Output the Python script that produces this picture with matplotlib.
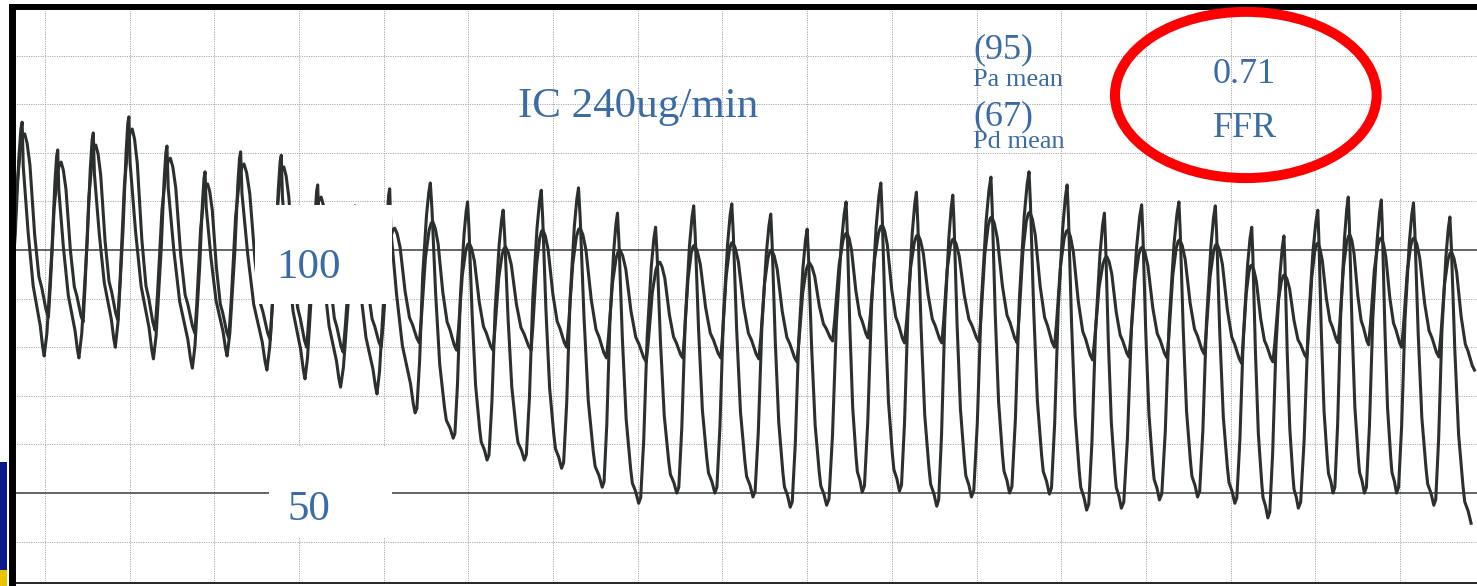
import matplotlib
matplotlib.use("Agg")
import matplotlib.pyplot as plt
from matplotlib.patches import Ellipse, Rectangle

# time in s (one grid division = 1 s), pressure in mmHg
# lower trace (deep troughs, sharp peaks); first trough lies just left of the frame
low_trough_t = [-0.46, -0.01, 0.40, 0.83, 1.28, 1.74, 2.15, 2.62, 3.07, 3.49, 3.92,
                4.37, 4.82, 5.22, 5.66, 6.10, 6.58, 7.01, 7.46, 7.91, 8.36, 8.80,
                9.23, 9.65, 10.09, 10.53, 10.94, 11.39, 11.86, 12.30, 12.71, 13.16,
                13.61, 14.05, 14.44, 14.80, 15.21, 15.58, 15.96, 16.40, 16.84]
low_trough_p = [79.4, 78.2, 77.8, 80.0, 77.6, 75.7, 78.2, 75.3, 73.5, 71.8, 70.4,
                66.5, 61.3, 56.8, 56.8, 55.1, 51.2, 47.9, 50.0, 50.0, 49.2, 47.1,
                47.5, 50.2, 50.4, 47.3, 49.2, 50.0, 49.8, 46.5, 46.9, 48.6, 49.2,
                47.9, 44.9, 46.9, 50.0, 50.0, 50.0, 47.5, 43.8]
low_peak_t = [-0.27, 0.15, 0.57, 0.99, 1.44, 1.89, 2.31, 2.79, 3.22, 3.66, 4.07,
              4.55, 4.99, 5.41, 5.86, 6.30, 6.76, 7.21, 7.66, 8.11, 8.57, 9.00,
              9.46, 9.87, 10.29, 10.72, 11.17, 11.62, 12.07, 12.51, 12.95, 13.39,
              13.82, 14.25, 14.63, 15.03, 15.39, 15.78, 16.16, 16.59]
low_peak_p = [126.3, 120.6, 124.1, 127.4, 121.4, 116.1, 120.2, 119.5, 113.4, 109.1,
              112.6, 113.8, 109.9, 108.2, 112.3, 112.8, 107.6, 104.7, 109.1, 109.5,
              107.4, 104.3, 109.9, 113.8, 111.9, 111.3, 115.0, 116.1, 113.4, 107.6,
              109.3, 109.9, 109.1, 104.7, 102.9, 108.2, 110.9, 110.3, 109.7, 106.8]

# upper trace (higher troughs, rounded peaks)
up_trough_t = [-0.41, 0.04, 0.45, 0.86, 1.30, 1.77, 2.17, 2.66, 3.09, 3.52, 3.97,
               4.42, 4.86, 5.29, 5.74, 6.16, 6.63, 7.10, 7.53, 7.98, 8.43, 8.88,
               9.30, 9.72, 10.15, 10.59, 11.03, 11.48, 11.92, 12.37, 12.80, 13.25,
               13.69, 14.13, 14.50, 14.90, 15.27, 15.63, 16.02, 16.46, 16.88]
up_trough_p = [86.0, 86.2, 85.2, 85.6, 83.5, 82.9, 81.9, 81.5, 80.0, 79.0, 80.0,
               80.9, 79.4, 79.4, 79.4, 80.0, 77.8, 77.0, 77.8, 77.8, 77.6, 77.0,
               81.3, 81.9, 80.9, 80.9, 81.1, 80.9, 80.0, 77.4, 78.0, 77.8, 78.6,
               76.7, 77.0, 77.8, 80.9, 80.5, 80.0, 78.0, 75.3]
up_peak_t = [-0.24, 0.19, 0.60, 1.03, 1.48, 1.92, 2.35, 2.82, 3.26, 3.70, 4.13,
             4.58, 5.01, 5.44, 5.88, 6.32, 6.79, 7.26, 7.67, 8.12, 8.58, 9.03,
             9.47, 9.89, 10.31, 10.73, 11.18, 11.63, 12.08, 12.54, 12.96, 13.40,
             13.84, 14.25, 14.64, 15.03, 15.41, 15.78, 16.17, 16.61]
up_peak_p = [123.9, 118.1, 121.6, 124.9, 118.9, 113.6, 117.7, 117.1, 110.9, 106.6,
             104.5, 105.8, 101.4, 100.6, 104.1, 104.5, 100.0, 97.5, 101.0, 101.6,
             100.0, 97.3, 103.5, 105.1, 103.1, 102.3, 106.8, 107.8, 104.1, 98.6,
             100.6, 102.1, 101.2, 96.9, 94.9, 101.4, 103.1, 102.5, 102.5, 99.6]

# beats before this index are pre-hyperaemia (wider lower trace)
hyperemia_beat = 11

low_rise_rest = [(0, 0), (0.2, 0.11), (0.57, 0.51), (0.79, 0.84), (0.92, 0.97), (1, 1)]
low_fall_rest = [(0, 0), (0.05, 0.19), (0.27, 0.47), (0.5, 0.7), (0.82, 0.87), (0.93, 0.96), (1, 1)]
low_rise = [(0, 0), (0.12, 0.02), (0.3, 0.23), (0.5, 0.6), (0.75, 0.86), (0.9, 0.96), (1, 1)]
low_fall = [(0, 0), (0.07, 0.1), (0.23, 0.43), (0.41, 0.71), (0.62, 0.88),
            (0.7, 0.93), (0.86, 0.96), (1, 1)]
up_rise = [(0, 0), (0.15, 0.2), (0.45, 0.7), (0.72, 0.93), (0.88, 0.99), (1, 1)]
up_fall = [(0, 0), (0.1, 0.05), (0.22, 0.17), (0.42, 0.55), (0.6, 0.78),
           (0.72, 0.84), (0.9, 0.96), (1, 1)]

grid_p = [40, 60, 70, 80, 90, 110, 120, 130, 140]
ref_p = [50, 100]

TXT = "#3a6ba5"
TRACE = "#2b302d"
GRID = "#a9a9a9"
SERIF = "Liberation Serif"


def beat_path(tr_t, tr_p, pk_t, pk_p, shapes):
    ts, ps = [], []
    for i in range(len(pk_t)):
        rise, fall = shapes(i)
        t0, p0 = tr_t[i], tr_p[i]
        t1, p1 = pk_t[i], pk_p[i]
        t2, p2 = tr_t[i + 1], tr_p[i + 1]
        for ph, lv in rise[:-1]:
            ts.append(t0 + ph * (t1 - t0))
            ps.append(p0 + lv * (p1 - p0))
        for ph, lv in fall[:-1]:
            ts.append(t1 + ph * (t2 - t1))
            ps.append(p1 + lv * (p2 - p1))
    ts.append(tr_t[-1])
    ps.append(tr_p[-1])
    return ts, ps


def low_shape(i):
    if i < hyperemia_beat:
        return low_rise_rest, low_fall_rest
    return low_rise, low_fall


fig = plt.figure(figsize=(14.77, 5.86), dpi=100)
ax = fig.add_axes([12 / 1477, 3 / 586, 1465 / 1477, 576 / 586])
ax.set_xlim(-0.39, 16.91)
ax.set_ylim(31.5, 150.0)
ax.set_xticks([])
ax.set_yticks([])

# chart paper grid
for k in range(17):
    ax.axvline(k, color=GRID, lw=0.7, ls=(0, (1.2, 1.2)), zorder=0)
for p in grid_p:
    ax.axhline(p, color=GRID, lw=0.7, ls=(0, (1.2, 1.2)), zorder=0)
for p in ref_p:
    ax.axhline(p, color="#3a3a3a", lw=1.1, zorder=1)

lt, lp = beat_path(low_trough_t, low_trough_p, low_peak_t, low_peak_p, low_shape)
ut, up = beat_path(up_trough_t, up_trough_p, up_peak_t, up_peak_p, lambda i: (up_rise, up_fall))
ax.plot(lt, lp, color=TRACE, lw=2.2, solid_joinstyle="round", zorder=2)
ax.plot(ut, up, color=TRACE, lw=2.2, solid_joinstyle="round", zorder=2)

# white label patches pasted over the tracing
ax.add_patch(Rectangle((2.48, 88.9), 1.62, 20.4, facecolor="white", edgecolor="none", zorder=3))
ax.add_patch(Rectangle((2.64, 40.9), 1.46, 18.6, facecolor="white", edgecolor="none", zorder=3))
ax.text(3.11, 94.2, "100", fontsize=31, family=SERIF, color=TXT, ha="center", va="baseline", zorder=4)
ax.text(3.12, 44.4, "50", fontsize=31, family=SERIF, color=TXT, ha="center", va="baseline", zorder=4)

ax.text(5.58, 127.4, "IC 240ug/min", fontsize=31, family=SERIF, color=TXT, va="baseline", zorder=4)
ax.text(10.96, 139.5, "(95)", fontsize=26, family=SERIF, color=TXT, va="baseline", zorder=4)
ax.text(10.96, 133.7, "Pa mean", fontsize=19, family=SERIF, color=TXT, va="baseline", zorder=4)
ax.text(10.96, 125.7, "(67)", fontsize=26, family=SERIF, color=TXT, va="baseline", zorder=4)
ax.text(10.96, 121.0, "Pd mean", fontsize=19, family=SERIF, color=TXT, va="baseline", zorder=4)
ax.text(14.16, 134.4, "0.71", fontsize=26, family=SERIF, color=TXT, ha="center", va="baseline", zorder=4)
ax.text(14.17, 123.2, "FFR", fontsize=26, family=SERIF, color=TXT, ha="center", va="baseline", zorder=4)
ax.add_patch(Ellipse((14.18, 131.9), 3.09, 34.2, facecolor="none", edgecolor="#fe0000", lw=7.2, zorder=5))

# frame of the scanned strip
ax.spines["right"].set_visible(False)
ax.spines["left"].set_linewidth(5.0)
ax.spines["top"].set_linewidth(4.3)
ax.spines["bottom"].set_linewidth(1.2)
for side in ["left", "top", "bottom"]:
    ax.spines[side].set_color("black")

# scanner edge artefact at bottom-left
fig.patches.append(Rectangle((0, 0), 7 / 1477, 124 / 586, transform=fig.transFigure,
                             facecolor="#0b1a8a", edgecolor="none"))
fig.patches.append(Rectangle((0, 0), 7 / 1477, 16 / 586, transform=fig.transFigure,
                             facecolor="#e6c400", edgecolor="none"))

fig.savefig("out.png", dpi=100)
